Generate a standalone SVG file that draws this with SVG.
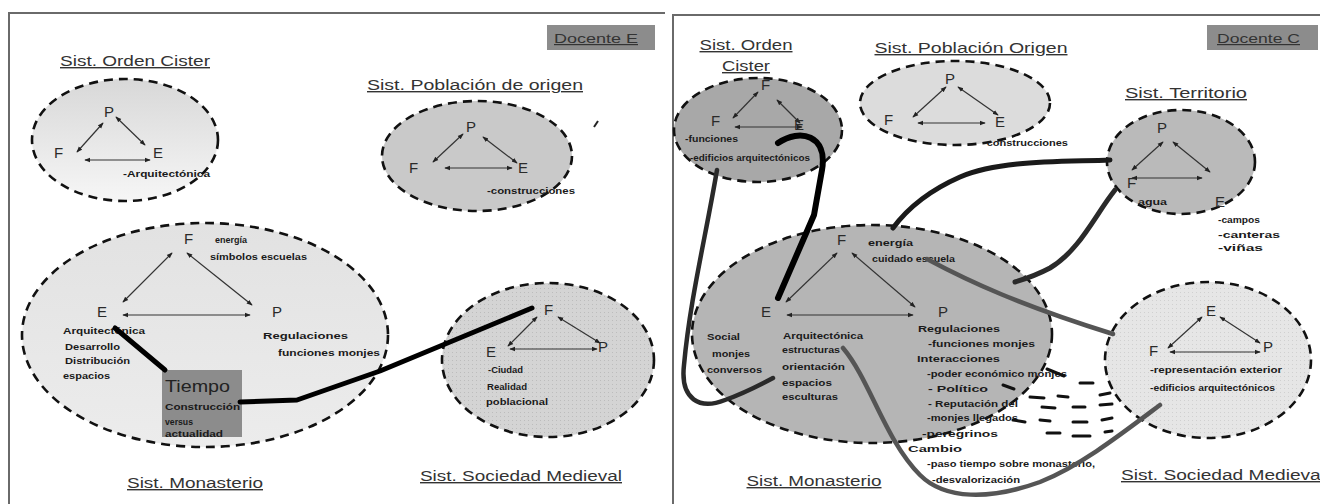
<svg xmlns="http://www.w3.org/2000/svg" width="1320" height="504" viewBox="0 0 1320 504">
<defs>
<style>
.lbl{font-family:"Liberation Sans",Arial,sans-serif;font-size:14px;fill:#333;text-decoration:underline}
.v{font-family:"Liberation Sans",Arial,sans-serif;font-size:15px;fill:#2a2a2a}
.s{font-family:"Liberation Sans",Arial,sans-serif;font-size:9.5px;font-weight:bold;fill:#1a1a1a}
.el{stroke:#111;stroke-width:2.6;stroke-dasharray:9 6}
.tri{stroke:#333;stroke-width:1.2;fill:none;marker-start:url(#a);marker-end:url(#a)}
.doc{font-family:"Liberation Sans",Arial,sans-serif;font-size:12px;fill:#333;text-decoration:underline}
.thk{fill:none;stroke-linecap:round;stroke-linejoin:round}
.dash{stroke:#111;stroke-width:3;stroke-linecap:round}
</style>
<marker id="a" viewBox="0 0 8 8" refX="7" refY="4" markerWidth="6" markerHeight="6" orient="auto-start-reverse" markerUnits="userSpaceOnUse"><path d="M0,1 L8,4 L0,7z" fill="#222"/></marker>
<linearGradient id="g1" x1="0" y1="0" x2="0" y2="1"><stop offset="0" stop-color="#d8d8d8"/><stop offset="1" stop-color="#f6f6f6"/></linearGradient>
<linearGradient id="g2" x1="0" y1="0" x2="0" y2="1"><stop offset="0" stop-color="#e2e2e2"/><stop offset="1" stop-color="#ececec"/></linearGradient>
<pattern id="dots" width="4" height="4" patternUnits="userSpaceOnUse"><rect width="4" height="4" fill="#d4d4d4"/><rect width="1" height="1" fill="#bcbcbc"/></pattern>
<pattern id="dots2" width="4" height="4" patternUnits="userSpaceOnUse"><rect width="4" height="4" fill="#e6e6e6"/><rect width="1" height="1" fill="#d0d0d0"/></pattern>
</defs>
<rect width="1320" height="504" fill="#fff"/>

<!-- panel frames -->
<g id="frames" fill="none" stroke="#6a6a6a" stroke-width="2">
<path d="M9,504 V13 H665"/>
<path d="M673,504 V15 H1320"/>
</g>

<!-- LEFT PANEL -->
<g id="docenteE">
<rect x="547" y="25" width="108" height="25" fill="#8c8c8c"/>
<text class="doc" x="554" y="43" textLength="84" lengthAdjust="spacingAndGlyphs">Docente E</text>
</g>

<g id="L_cister">
<text class="lbl" x="135" y="66" text-anchor="middle" textLength="150" lengthAdjust="spacingAndGlyphs">Sist. Orden Cister</text>
<ellipse class="el" cx="125" cy="140" rx="93" ry="61" fill="url(#g1)"/>
<line class="tri" x1="77" y1="152" x2="103" y2="123"/>
<line class="tri" x1="116" y1="117" x2="145" y2="145"/>
<line class="tri" x1="85" y1="160" x2="150" y2="160"/>
<text class="v" x="104" y="117">P</text>
<text class="v" x="54" y="158">F</text>
<text class="v" x="153" y="158">E</text>
<text class="s" x="123" y="177" textLength="87" lengthAdjust="spacingAndGlyphs">-Arquitectónica</text>
</g>

<g id="L_poblacion">
<text class="lbl" x="475" y="90" text-anchor="middle" textLength="216" lengthAdjust="spacingAndGlyphs">Sist. Población de origen</text>
<ellipse class="el" cx="477" cy="156" rx="95" ry="55" fill="#c9c9c9"/>
<line class="tri" x1="433" y1="162" x2="463" y2="134"/>
<line class="tri" x1="483" y1="137" x2="517" y2="163"/>
<line class="tri" x1="445" y1="168" x2="512" y2="168"/>
<text class="v" x="466" y="132">P</text>
<text class="v" x="409" y="173">F</text>
<text class="v" x="518" y="173">E</text>
<text class="s" x="487" y="194" textLength="88" lengthAdjust="spacingAndGlyphs">-construcciones</text>
<line x1="594" y1="127" x2="598" y2="121" stroke="#222" stroke-width="2"/>
</g>

<g id="L_monasterio">
<ellipse class="el" cx="205" cy="335" rx="183" ry="112" fill="url(#g2)"/>
<line class="tri" x1="123" y1="302" x2="172" y2="253"/>
<line class="tri" x1="187" y1="253" x2="252" y2="305"/>
<line class="tri" x1="123" y1="315" x2="250" y2="315"/>
<text class="v" x="184" y="244">F</text>
<text class="v" x="97" y="317">E</text>
<text class="v" x="272" y="317">P</text>
<text class="s" x="215" y="243" textLength="32" lengthAdjust="spacingAndGlyphs">energía</text>
<text class="s" x="210" y="260" textLength="97" lengthAdjust="spacingAndGlyphs">símbolos escuelas</text>
<text class="s" x="63" y="334" textLength="82" lengthAdjust="spacingAndGlyphs">Arquitectónica</text>
<text class="s" x="65" y="350" textLength="55" lengthAdjust="spacingAndGlyphs">Desarrollo</text>
<text class="s" x="65" y="364" textLength="65" lengthAdjust="spacingAndGlyphs">Distribución</text>
<text class="s" x="63" y="379" textLength="47" lengthAdjust="spacingAndGlyphs">espacios</text>
<text class="s" x="263" y="339" textLength="85" lengthAdjust="spacingAndGlyphs">Regulaciones</text>
<text class="s" x="278" y="356" textLength="102" lengthAdjust="spacingAndGlyphs">funciones monjes</text>
<text class="lbl" x="195" y="488" text-anchor="middle" textLength="136" lengthAdjust="spacingAndGlyphs">Sist. Monasterio</text>
</g>

<g id="L_tiempo">
<rect x="162" y="370" width="80" height="67" fill="#8c8c8c"/>
<text x="165" y="392" font-family="Liberation Sans, Arial, sans-serif" font-size="17" fill="#222" textLength="65" lengthAdjust="spacingAndGlyphs">Tiempo</text>
<text class="s" x="165" y="410" textLength="75" lengthAdjust="spacingAndGlyphs">Construcción</text>
<text class="s" x="165" y="425" textLength="28" lengthAdjust="spacingAndGlyphs">versus</text>
<text class="s" x="165" y="437" textLength="58" lengthAdjust="spacingAndGlyphs">actualidad</text>
</g>

<g id="L_medieval">
<ellipse class="el" cx="548" cy="360" rx="106" ry="77" fill="url(#dots)"/>
<line class="tri" x1="537" y1="317" x2="508" y2="346"/>
<line class="tri" x1="558" y1="317" x2="600" y2="343"/>
<line class="tri" x1="510" y1="349" x2="597" y2="349"/>
<text class="v" x="544" y="315">F</text>
<text class="v" x="486" y="357">E</text>
<text class="v" x="598" y="352">P</text>
<text class="s" x="488" y="373" textLength="35" lengthAdjust="spacingAndGlyphs">-Ciudad</text>
<text class="s" x="487" y="390" textLength="40" lengthAdjust="spacingAndGlyphs">Realidad</text>
<text class="s" x="486" y="405" textLength="62" lengthAdjust="spacingAndGlyphs">poblacional</text>
<text class="lbl" x="521" y="481" text-anchor="middle" textLength="202" lengthAdjust="spacingAndGlyphs">Sist. Sociedad Medieval</text>
</g>

<!-- RIGHT PANEL -->
<g id="docenteC">
<rect x="1207" y="25" width="111" height="25" fill="#8c8c8c"/>
<text class="doc" x="1217" y="43" textLength="83" lengthAdjust="spacingAndGlyphs">Docente C</text>
</g>

<g id="R_cister">
<text class="lbl" x="746" y="50" text-anchor="middle" textLength="93" lengthAdjust="spacingAndGlyphs">Sist. Orden</text>
<text class="lbl" x="746" y="71" text-anchor="middle" textLength="48" lengthAdjust="spacingAndGlyphs">Cister</text>
<ellipse class="el" cx="758" cy="130" rx="84" ry="52" fill="#a8a8a8"/>
<line class="tri" x1="733" y1="118" x2="758" y2="92"/>
<line class="tri" x1="777" y1="100" x2="800" y2="123"/>
<line class="tri" x1="735" y1="127" x2="802" y2="127"/>
<text class="v" x="761" y="90">F</text>
<text class="v" x="711" y="126" font-size="13">F</text>
<text class="v" x="794" y="130" font-size="13">E</text>
<text class="s" x="685" y="142" textLength="53" lengthAdjust="spacingAndGlyphs">-funciones</text>
<text class="s" x="690" y="161" textLength="120" lengthAdjust="spacingAndGlyphs">-edificios arquitectónicos</text>
</g>

<g id="R_poblacion">
<text class="lbl" x="971" y="53" text-anchor="middle" textLength="193" lengthAdjust="spacingAndGlyphs">Sist. Población Origen</text>
<ellipse class="el" cx="955" cy="103" rx="95" ry="42" fill="#dcdcdc"/>
<line class="tri" x1="913" y1="117" x2="946" y2="87"/>
<line class="tri" x1="958" y1="87" x2="998" y2="115"/>
<line class="tri" x1="918" y1="123" x2="985" y2="123"/>
<text class="v" x="945" y="84">P</text>
<text class="v" x="884" y="125" font-size="13">F</text>
<text class="v" x="995" y="127">E</text>
<text class="s" x="983" y="146" textLength="85" lengthAdjust="spacingAndGlyphs">-construcciones</text>
</g>

<g id="R_territorio">
<text class="lbl" x="1186" y="98" text-anchor="middle" textLength="122" lengthAdjust="spacingAndGlyphs">Sist. Territorio</text>
<ellipse class="el" cx="1181" cy="162" rx="74" ry="52" fill="#bababa"/>
<line class="tri" x1="1132" y1="170" x2="1163" y2="142"/>
<line class="tri" x1="1173" y1="142" x2="1210" y2="172"/>
<line class="tri" x1="1132" y1="178" x2="1202" y2="178"/>
<text class="v" x="1157" y="133">P</text>
<text class="v" x="1127" y="188" font-size="13">F</text>
<text class="v" x="1215" y="207" font-size="14">E</text>
<text class="s" x="1138" y="205" textLength="29" lengthAdjust="spacingAndGlyphs">agua</text>
<text class="s" x="1218" y="223" textLength="42" lengthAdjust="spacingAndGlyphs">-campos</text>
<text class="s" x="1218" y="238" textLength="62" lengthAdjust="spacingAndGlyphs">-canteras</text>
<text class="s" x="1218" y="251" textLength="45" lengthAdjust="spacingAndGlyphs">-viñas</text>
</g>

<g id="R_monasterio">
<ellipse class="el" cx="872" cy="334" rx="180" ry="109" fill="#b5b5b5"/>
<line class="tri" x1="786" y1="302" x2="837" y2="253"/>
<line class="tri" x1="852" y1="253" x2="915" y2="307"/>
<line class="tri" x1="787" y1="315" x2="913" y2="315"/>
<text class="v" x="837" y="245">F</text>
<text class="v" x="761" y="317">E</text>
<text class="v" x="938" y="317">P</text>
<text class="s" x="868" y="246" textLength="45" lengthAdjust="spacingAndGlyphs">energía</text>
<text class="s" x="872" y="262" textLength="83" lengthAdjust="spacingAndGlyphs">cuidado escuela</text>
<text class="s" x="707" y="340" textLength="33" lengthAdjust="spacingAndGlyphs">Social</text>
<text class="s" x="712" y="357" textLength="38" lengthAdjust="spacingAndGlyphs">monjes</text>
<text class="s" x="707" y="373" textLength="55" lengthAdjust="spacingAndGlyphs">conversos</text>
<text class="s" x="783" y="339" textLength="80" lengthAdjust="spacingAndGlyphs">Arquitectónica</text>
<text class="s" x="782" y="353" textLength="58" lengthAdjust="spacingAndGlyphs">estructuras</text>
<text class="s" x="782" y="370" textLength="63" lengthAdjust="spacingAndGlyphs">orientación</text>
<text class="s" x="782" y="386" textLength="50" lengthAdjust="spacingAndGlyphs">espacios</text>
<text class="s" x="782" y="400" textLength="56" lengthAdjust="spacingAndGlyphs">esculturas</text>
<text class="s" x="918" y="332" textLength="82" lengthAdjust="spacingAndGlyphs">Regulaciones</text>
<text class="s" x="928" y="347" textLength="107" lengthAdjust="spacingAndGlyphs">-funciones monjes</text>
<text class="s" x="917" y="362" textLength="83" lengthAdjust="spacingAndGlyphs">Interacciones</text>
<text class="s" x="927" y="377" textLength="140" lengthAdjust="spacingAndGlyphs">-poder económico monjes</text>
<text class="s" x="928" y="392" textLength="60" lengthAdjust="spacingAndGlyphs">- Político</text>
<text class="s" x="928" y="407" textLength="90" lengthAdjust="spacingAndGlyphs">- Reputación del</text>
<text class="s" x="927" y="421" textLength="91" lengthAdjust="spacingAndGlyphs">-monjes llegados</text>
<text class="s" x="922" y="437" textLength="76" lengthAdjust="spacingAndGlyphs">-peregrinos</text>
<text class="s" x="908" y="452" textLength="54" lengthAdjust="spacingAndGlyphs">Cambio</text>
<text class="s" x="927" y="467" textLength="168" lengthAdjust="spacingAndGlyphs">-paso tiempo sobre monasterio,</text>
<text class="s" x="932" y="483" textLength="88" lengthAdjust="spacingAndGlyphs">-desvalorización</text>
<text class="lbl" x="814" y="486" text-anchor="middle" textLength="135" lengthAdjust="spacingAndGlyphs">Sist. Monasterio</text>
</g>

<g id="R_medieval">
<ellipse class="el" cx="1208" cy="360" rx="103" ry="78" fill="url(#dots2)"/>
<line class="tri" x1="1168" y1="348" x2="1202" y2="317"/>
<line class="tri" x1="1220" y1="317" x2="1260" y2="343"/>
<line class="tri" x1="1170" y1="352" x2="1260" y2="352"/>
<text class="v" x="1206" y="316">E</text>
<text class="v" x="1149" y="356" font-size="14" fill="#666">F</text>
<text class="v" x="1263" y="352">P</text>
<text class="s" x="1150" y="373" textLength="132" lengthAdjust="spacingAndGlyphs">-representación exterior</text>
<text class="s" x="1150" y="391" textLength="125" lengthAdjust="spacingAndGlyphs">-edificios arquitectónicos</text>
<text class="lbl" x="1121" y="480" textLength="204" lengthAdjust="spacingAndGlyphs">Sist. Sociedad Medieval</text>
</g>

<g id="hatch">
<line class="dash" x1="1003" y1="385" x2="1014" y2="389"/>
<line class="dash" x1="1047" y1="369" x2="1064" y2="376"/>
<line class="dash" x1="1080" y1="383" x2="1093" y2="383"/>
<line class="dash" x1="1100" y1="395" x2="1110" y2="393"/>
<line class="dash" x1="1030" y1="397" x2="1044" y2="398"/>
<line class="dash" x1="1058" y1="396" x2="1068" y2="397"/>
<line class="dash" x1="1042" y1="407" x2="1055" y2="408"/>
<line class="dash" x1="1073" y1="407" x2="1085" y2="407"/>
<line class="dash" x1="1100" y1="405" x2="1112" y2="404"/>
<line class="dash" x1="1013" y1="420" x2="1025" y2="422"/>
<line class="dash" x1="1040" y1="420" x2="1050" y2="421"/>
<line class="dash" x1="1073" y1="422" x2="1087" y2="422"/>
<line class="dash" x1="1102" y1="420" x2="1112" y2="418"/>
<line class="dash" x1="1047" y1="433" x2="1060" y2="433"/>
<line class="dash" x1="1073" y1="436" x2="1090" y2="436"/>
<line class="dash" x1="1105" y1="432" x2="1112" y2="431"/>
</g>

<!-- CONNECTORS -->
<g id="connectors" class="thk">
<path d="M115,328 L165,370" stroke="#000" stroke-width="5"/>
<path d="M240,402 L297,400 L380,371 L532,308" stroke="#000" stroke-width="5"/>
<path d="M778,143 C800,128 828,135 822,170 L814,215 L778,298" stroke="#000" stroke-width="6"/>
<path d="M717,170 C705,240 690,300 684,365 C680,400 700,410 725,400 C745,393 760,385 773,378" stroke="#2a2a2a" stroke-width="4.5"/>
<path d="M1110,160 C1060,162 1000,160 960,177 C935,188 910,205 893,228" stroke="#1a1a1a" stroke-width="5"/>
<path d="M1115,190 C1095,215 1080,250 1050,268 C1035,276 1025,279 1015,282" stroke="#2a2a2a" stroke-width="5"/>
<path d="M927,259 C970,282 1020,305 1113,334" stroke="#555" stroke-width="4.5"/>
<path d="M843,348 C870,380 885,440 920,475 C945,500 990,500 1040,482 C1080,466 1120,435 1160,405" stroke="#555" stroke-width="4.5"/>
</g>
</svg>
